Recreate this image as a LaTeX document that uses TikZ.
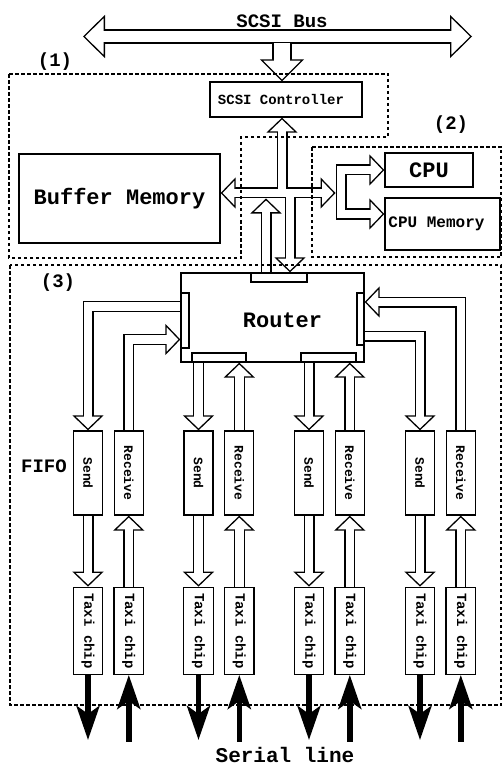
\documentclass[tikz,border=0pt]{standalone}
\usepackage{fontspec}
\usepackage{graphicx}
\usepackage{tikz}
\setmonofont{Liberation Mono}
\usetikzlibrary{arrows.meta}
\usetikzlibrary{positioning}
\pgfdeclarelayer{background}
\pgfsetlayers{background,main}
\newcommand{\mono}[1]{\ttfamily\bfseries\fontsize{#1}{#1}\selectfont}
\tikzset{box/.style = {draw, fill=white, line width=1.3pt, inner sep=0}}
\tikzset{fifo/.style = {box, minimum width=29pt, minimum height=84pt, font=\mono{13}}}
\tikzset{taxi/.style = {box, minimum width=29.5pt, minimum height=87pt, font=\mono{14}}}
\tikzset{region/.style = {line width=1.2pt, dash pattern=on 3.5pt off 2.5pt}}
\tikzset{pipe/.style = {line width=11pt, -{Triangle[fill=white, line width=1.3pt, length=15pt, width=31pt]},
                        postaction={draw, white, line width=8.4pt, -, shorten >=13pt}}}
\tikzset{twopipe/.style = {line width=11pt,
                           {Triangle[fill=white, line width=1.3pt, length=15pt, width=31pt]}-{Triangle[fill=white, line width=1.3pt, length=15pt, width=31pt]},
                           postaction={draw, white, line width=8.4pt, -, shorten <=13pt, shorten >=13pt}}}
\tikzset{bigpipe/.style = {line width=14.5pt,
                           {Triangle[fill=white, line width=1.3pt, length=22pt, width=43pt]}-{Triangle[fill=white, line width=1.3pt, length=22pt, width=43pt]},
                           postaction={draw, white, line width=11.9pt, -, shorten <=20pt, shorten >=20pt}}}
\tikzset{fatpipe/.style = {line width=19.5pt,
                           -{Triangle[fill=white, line width=1.3pt, length=22pt, width=44pt]},
                           postaction={draw, white, line width=16.9pt, -, shorten >=20pt}}}
\tikzset{serial/.style = {line width=5.5pt, -{Stealth[length=34pt, width=23pt, inset=8pt]}}}

\begin{document}
\begin{tikzpicture}[x=1pt, y=-1pt]
    \useasboundingbox (0,0) rectangle (502,767);

    \node[box, minimum width=152pt, minimum height=35pt,
          label={[font=\mono{14}, xshift=-5pt]center:SCSI Controller}] (ctrl) at (286,99.5) {};
    \node[box, minimum width=201pt, minimum height=89pt, font=\mono{22}] (buf) at (119.5,198.5) {Buffer Memory};
    \node[box, minimum width=88pt, minimum height=34pt, font=\mono{22}] (cpu) at (429,170) {CPU};
    \node[box, minimum width=115pt, minimum height=52pt,
          label={[font=\mono{16}, xshift=-6pt]center:CPU Memory}] (cpumem) at (442.5,224) {};
    \node[box, minimum width=183pt, minimum height=89pt,
          label={[font=\mono{22}, xshift=10pt, yshift=-2.5pt]center:Router}] (router) at (272.5,317.5) {};
    \node[box, minimum width=56pt, minimum height=9pt] (ptop) at (279,277.5) {};
    \node[box, minimum width=8pt, minimum height=55pt] (pleft) at (185,320.5) {};
    \node[box, minimum width=7pt, minimum height=52pt] (pright) at (360.5,319) {};
    \node[box, minimum width=54pt, minimum height=9pt] (pbot1) at (219,357.5) {};
    \node[box, minimum width=55pt, minimum height=9pt] (pbot2) at (328.5,357.5) {};

    \foreach \i/\x in {1/88,2/198.5,3/309,4/420} {
      \node[fifo] (s\i) at (\x,473) {\rotatebox{-90}{Send}};
      \node[fifo, right=10.5pt of s\i] (r\i) {\rotatebox{-90}{Receive}};
      \node[taxi, below=71pt of s\i] (ts\i) {\rotatebox{-90}{Taxi chip}};
      \node[taxi, below=71pt of r\i] (tr\i) {\rotatebox{-90}{Taxi chip}};
      \coordinate (so\i) at ([yshift=-65pt]ts\i.south);
      \coordinate (si\i) at ([yshift=-67pt]tr\i.south);
    }

    \coordinate (busl) at (83,36.5);
    \coordinate (busr) at (472,36.5);
    \coordinate (busj) at (282,42.8);
    \coordinate (brk) at (341,193);
    \coordinate (jup) at (282,189.2);
    \coordinate (jdown) at (290,196.8);
    \coordinate (jin) at (266,198.5);

    \begin{pgfonlayer}{background}
      \draw[bigpipe] (busl) -- (busr);
      \draw[fatpipe] (busj) -- (busj |- ctrl.north);

      \draw[twopipe] (cpu.west) -| (brk) |- ([yshift=10pt]cpumem.west);
      \draw[twopipe] ([yshift=5.5pt]buf.east) -- ([xshift=-5.5pt]brk);
      \draw[pipe] (jup) -- (jup |- ctrl.south);
      \draw[pipe] (jdown) -- (jdown |- router.north);
      \draw[pipe] (jin |- router.north) -- (jin);

      \draw[pipe] ([yshift=14pt]pleft.west) -| (s1.north);
      \draw[pipe] (r1.north) |- ([yshift=-19pt]pleft.west);
      \draw[pipe] (s2.north |- pbot1.south) -- (s2.north);
      \draw[pipe] (r2.north) -- (r2.north |- pbot1.south);
      \draw[pipe] (s3.north |- pbot2.south) -- (s3.north);
      \draw[pipe] (r3.north) -- (r3.north |- pbot2.south);
      \draw[pipe] ([yshift=-17pt]pright.east) -| (s4.north);
      \draw[pipe] (r4.north) |- ([yshift=17pt]pright.east);

      \foreach \i in {1,...,4} {
        \draw[pipe] (s\i.south) -- (ts\i.north);
        \draw[pipe] (tr\i.north) -- (r\i.south);
      }
    \end{pgfonlayer}

    \draw[region] (9,74) -- (388,74) -- (388,137) -- (241,137) -- (241,258) -- (9,258) -- cycle;
    \draw[region] (312,147) -- (501,147) -- (501,257) -- (312,257) -- cycle;
    \draw[region] (10,265) rectangle (501,705);

    \foreach \i in {1,...,4} {
      \draw[serial] (ts\i.south) -- (so\i);
      \draw[serial] (si\i) -- (tr\i.south);
    }

    \node[font=\mono{19}] (bus) at (282,21) {SCSI Bus};
    \node[font=\mono{19}] (one) at (55,62) {(1)};
    \node[font=\mono{19}] (two) at (451,125) {(2)};
    \node[font=\mono{19}] (three) at (58,283) {(3)};
    \node[font=\mono{19}] (fifo) at (44,466) {FIFO};
    \node[font=\mono{21}, inner sep=0] (serial) at (285,755) {Serial line};
\end{tikzpicture}
\end{document}
